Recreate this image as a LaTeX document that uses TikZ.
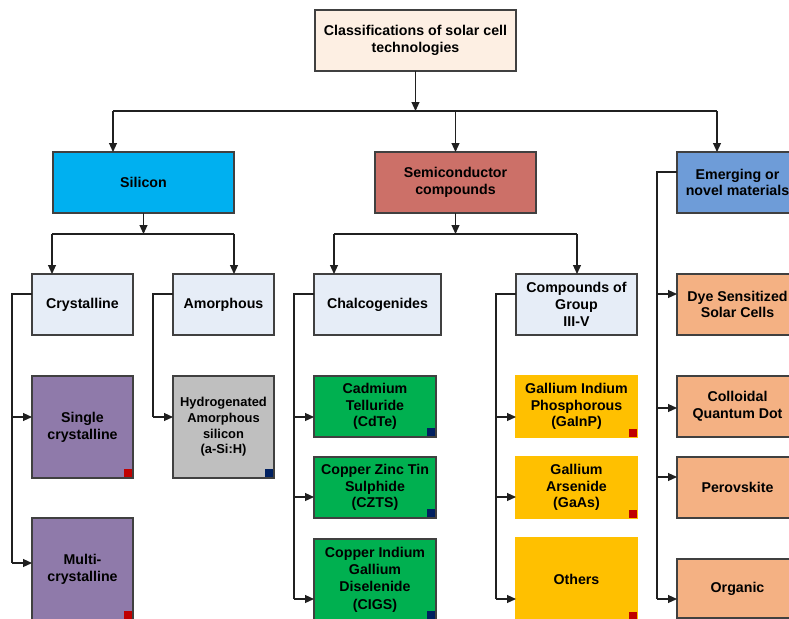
\documentclass[tikz,border=0pt]{standalone}
\usepackage{fontspec}
\setmainfont{Liberation Sans}
\usetikzlibrary{arrows.meta}
\definecolor{topc}{HTML}{FDEFE3}
\definecolor{silc}{HTML}{00B0F0}
\definecolor{semc}{HTML}{CC7068}
\definecolor{emec}{HTML}{6E9CD8}
\definecolor{lbc}{HTML}{E6EDF7}
\definecolor{purc}{HTML}{8F7AAA}
\definecolor{grayc}{HTML}{BFBFBF}
\definecolor{greenc}{HTML}{00B050}
\definecolor{yelc}{HTML}{FFC000}
\definecolor{orac}{HTML}{F4B183}
\definecolor{redsq}{HTML}{C00000}
\definecolor{navsq}{HTML}{002060}
\definecolor{bordc}{HTML}{404040}
\definecolor{linec}{HTML}{202020}
\begin{document}
\begin{tikzpicture}[x=1pt,y=-1pt,
  box/.style={draw=bordc, line width=1.2pt, inner sep=0pt, outer sep=0pt,
    anchor=north west, align=center,
    font=\bfseries\fontsize{14.2}{16.8}\selectfont},
  ybox/.style={box, draw=yelc, fill=yelc},
  conn/.style={draw=linec, line width=1.1pt},
  arr/.style={conn, -{Triangle[length=9pt,width=8pt]}},
  sq/.style={inner sep=0pt, outer sep=0pt, minimum size=8.5pt, anchor=south east}
]
\useasboundingbox (0,0) rectangle (789,618);
\clip (0,0) rectangle (789,618);

% level 0
\node[box, fill=topc, minimum width=201pt, minimum height=61pt] (top) at (315,10) {Classifications of solar cell\\technologies};
% level 1
\node[box, fill=silc, minimum width=181pt, minimum height=61pt] (silicon) at (53,152) {Silicon};
\node[box, fill=semc, minimum width=161pt, minimum height=61pt] (semi) at (375,152) {Semiconductor\\compounds};
\node[box, fill=emec, minimum width=121pt, minimum height=61pt] (emerg) at (677,152) {Emerging or\\novel materials};
% level 2
\node[box, fill=lbc, minimum width=101pt, minimum height=61pt] (cryst) at (32,274) {Crystalline};
\node[box, fill=lbc, minimum width=101pt, minimum height=61pt] (amor) at (173,274) {Amorphous};
\node[box, fill=lbc, minimum width=127pt, minimum height=61pt] (chal) at (314,274) {Chalcogenides};
\node[box, fill=lbc, minimum width=121pt, minimum height=61pt] (iiiv) at (516,274) {Compounds of\\Group\\III-V};
\node[box, fill=orac, minimum width=121pt, minimum height=61pt] (dye) at (677,274) {Dye Sensitized\\Solar Cells};
% level 3
\node[box, fill=purc, minimum width=101pt, minimum height=102pt] (single) at (32,376) {Single\\crystalline};
\node[box, fill=purc, minimum width=101pt, minimum height=102pt] (multi) at (32,518) {Multi-\\crystalline};
\node[box, fill=grayc, minimum width=101pt, minimum height=102pt, font=\bfseries\fontsize{12.9}{15.6}\selectfont] (hyd) at (173,376) {Hydrogenated\\Amorphous\\silicon\\(a-Si:H)};
\node[box, fill=greenc, minimum width=122pt, minimum height=61pt] (cdte) at (314,376) {Cadmium\\Telluride\\(CdTe)};
\node[box, fill=greenc, minimum width=122pt, minimum height=61pt] (czts) at (314,457) {Copper Zinc Tin\\Sulphide\\(CZTS)};
\node[box, fill=greenc, minimum width=122pt, minimum height=81pt, font=\bfseries\fontsize{14.2}{17.4}\selectfont] (cigs) at (314,539) {Copper Indium\\Gallium\\Diselenide\\(CIGS)};
\node[ybox, minimum width=121pt, minimum height=61pt] (gainp) at (516,376) {Gallium Indium\\Phosphorous\\(GaInP)};
\node[ybox, minimum width=121pt, minimum height=61pt] (gaas) at (516,457) {Gallium\\Arsenide\\(GaAs)};
\node[ybox, minimum width=121pt, minimum height=82pt] (others) at (516,538) {Others};
\node[box, fill=orac, minimum width=121pt, minimum height=61pt] (cqd) at (677,376) {Colloidal\\Quantum Dot};
\node[box, fill=orac, minimum width=121pt, minimum height=61pt] (perov) at (677,457) {Perovskite};
\node[box, fill=orac, minimum width=121pt, minimum height=59pt] (organic) at (677,559) {Organic};

% corner squares
\node[sq, fill=redsq] (sq1) at ([xshift=-0.6pt,yshift=0.6pt]single.south east) {};
\node[sq, fill=redsq] (sq2) at ([xshift=-0.6pt,yshift=0.6pt]multi.south east) {};
\node[sq, fill=navsq] (sq3) at ([xshift=-0.6pt,yshift=0.6pt]hyd.south east) {};
\node[sq, fill=navsq] (sq4) at ([xshift=-0.6pt,yshift=0.6pt]cdte.south east) {};
\node[sq, fill=navsq] (sq5) at ([xshift=-0.6pt,yshift=0.6pt]czts.south east) {};
\node[sq, fill=navsq] (sq6) at ([xshift=-0.6pt,yshift=0.6pt]cigs.south east) {};
\node[sq, fill=redsq] (sq7) at (gainp.south east) {};
\node[sq, fill=redsq] (sq8) at (gaas.south east) {};
\node[sq, fill=redsq] (sq9) at (others.south east) {};

% top bus
\coordinate (b0) at (415.5,111);
\coordinate (bL) at (113,111);
\coordinate (bR) at (717,111);
\draw[arr] (top.south) -- (b0);
\draw[conn] (bL) -- (bR);
\draw[arr] (bL) -- (bL |- silicon.north);
\draw[arr] (semi.north |- b0) -- (semi.north);
\draw[arr] (bR) -- (bR |- emerg.north);

% silicon bus
\coordinate (s0) at (143.5,234);
\coordinate (sL) at (52,234);
\coordinate (sR) at (234,234);
\draw[arr] (silicon.south) -- (s0);
\draw[conn] (sL) -- (sR);
\draw[arr] (sL) -- (sL |- cryst.north);
\draw[arr] (sR) -- (sR |- amor.north);

% semiconductor bus
\coordinate (m0) at (455.5,234);
\coordinate (mL) at (334,234);
\coordinate (mR) at (577,234);
\draw[arr] (semi.south) -- (m0);
\draw[conn] (mL) -- (mR);
\draw[arr] (mL) -- (mL |- chal.north);
\draw[arr] (mR) -- (mR |- iiiv.north);

% crystalline branch
\coordinate (c0) at (12,294);
\coordinate (c1) at (12,417);
\coordinate (c2) at (12,563);
\draw[conn] (cryst.west |- c0) -- (c0) -- (c2);
\draw[arr] (c1) -- (c1 -| single.west);
\draw[arr] (c2) -- (c2 -| multi.west);

% amorphous branch
\coordinate (a0) at (153,294);
\coordinate (a1) at (153,417);
\draw[conn] (amor.west |- a0) -- (a0) -- (a1);
\draw[arr] (a1) -- (a1 -| hyd.west);

% chalcogenides branch
\coordinate (h0) at (294,294);
\coordinate (h1) at (294,417);
\coordinate (h2) at (294,497);
\coordinate (h3) at (294,599);
\draw[conn] (chal.west |- h0) -- (h0) -- (h3);
\draw[arr] (h1) -- (h1 -| cdte.west);
\draw[arr] (h2) -- (h2 -| czts.west);
\draw[arr] (h3) -- (h3 -| cigs.west);

% III-V branch
\coordinate (g0) at (496,294);
\coordinate (g1) at (496,417);
\coordinate (g2) at (496,497);
\coordinate (g3) at (496,599);
\draw[conn] (iiiv.west |- g0) -- (g0) -- (g3);
\draw[arr] (g1) -- (g1 -| gainp.west);
\draw[arr] (g2) -- (g2 -| gaas.west);
\draw[arr] (g3) -- (g3 -| others.west);

% emerging branch
\coordinate (e0) at (657,172);
\coordinate (e1) at (657,294);
\coordinate (e2) at (657,408);
\coordinate (e3) at (657,477);
\coordinate (e4) at (657,599);
\draw[conn] (emerg.west |- e0) -- (e0) -- (e4);
\draw[arr] (e1) -- (e1 -| dye.west);
\draw[arr] (e2) -- (e2 -| cqd.west);
\draw[arr] (e3) -- (e3 -| perov.west);
\draw[arr] (e4) -- (e4 -| organic.west);
\end{tikzpicture}
\end{document}
